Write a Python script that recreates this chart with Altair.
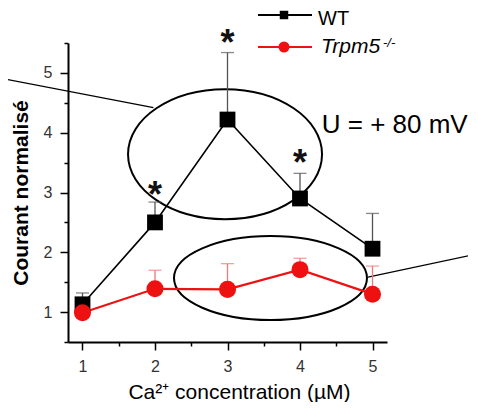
import altair as alt
import pandas as pd

# ---- data ----
conc = [1, 2, 3, 4, 5]
wt_mean = [1.13, 2.50, 4.22, 2.90, 2.06]
wt_err = [0.19, 0.34, 1.12, 0.42, 0.59]
ko_mean = [0.99, 1.39, 1.38, 1.71, 1.30]
ko_err = [0.10, 0.31, 0.43, 0.19, 0.47]
series_names = ["WT", "Trpm5"]

# significance stars (x, y of star centre)
star_x = [2, 3, 4]
star_y = [3.09, 5.63, 3.62]

# annotation ellipses (centre in data units)
ell_x = [2.966, 3.593]
ell_y = [3.64, 1.569]

# connector lines (data units)
conn_x1 = [-0.13, 4.938]
conn_y1 = [4.91, 1.585]
conn_x2 = [1.979, 6.43]
conn_y2 = [4.42, 1.97]

voltage_text = "U = + 80 mV"
voltage_pos = [4.30, 3.99]

x_ticks = [1, 1.5, 2, 2.5, 3, 3.5, 4, 4.5, 5]
y_ticks = [0.5, 1, 1.5, 2, 2.5, 3, 3.5, 4, 4.5, 5, 5.5]

FONT = "Liberation Sans"
RED = "#ee1111"

rows = []
for name, means, errs in [(series_names[0], wt_mean, wt_err), (series_names[1], ko_mean, ko_err)]:
    for c, m, e in zip(conc, means, errs):
        rows.append({"series": name, "conc": c, "mean": m, "top": m + e})
df = pd.DataFrame(rows)

xscale = alt.Scale(domain=[0.8, 5.2], nice=False, zero=False)
yscale = alt.Scale(domain=[0.5, 5.5], nice=False, zero=False)

LABEL_EXPR = "datum.value % 1 === 0 ? format(datum.value, 'd') : ''"
TICK_SIZE = {"condition": {"test": "datum.value % 1 === 0", "value": 8}, "value": 4}

x_axis = alt.Axis(
    values=x_ticks, tickCount=30, labelExpr=LABEL_EXPR, labelOverlap=False,
    title="Ca²⁺ concentration (µM)",
    titleFontSize=21, titleFontWeight="normal", titlePadding=7,
    titleX=171, labelPadding=8, tickSize=TICK_SIZE,
)
y_axis = alt.Axis(
    values=y_ticks, tickCount=30, labelExpr=LABEL_EXPR, labelOverlap=False,
    title="Courant normalisé",
    titleFontSize=21, titleFontWeight="bold", titlePadding=12,
    labelPadding=8, tickSize=TICK_SIZE,
)

base = alt.Chart(df).encode(
    x=alt.X("conc:Q", scale=xscale, axis=x_axis),
    y=alt.Y("mean:Q", scale=yscale, axis=y_axis),
)


def series_layers(name, color, err_color, shape, size, line_w):
    src = base.transform_filter(alt.datum.series == name)
    err = src.mark_rule(color=err_color, strokeWidth=1.3).encode(y2="top:Q")
    cap = src.mark_tick(color=err_color, orient="horizontal", size=13, thickness=1.3).encode(
        y=alt.Y("top:Q", scale=yscale, axis=y_axis)
    )
    line = src.mark_line(color=color, strokeWidth=line_w)
    pts = src.mark_point(shape=shape, filled=True, color=color, size=size, opacity=1)
    return err, cap, line, pts


wt_layers = series_layers("WT", "#000000", "#555555", "square", 250, 1.6)
ko_layers = series_layers("Trpm5", RED, "#f07878", "circle", 290, 2.2)

stars = alt.Chart(pd.DataFrame({"x": star_x, "y": star_y})).mark_text(
    text="*", font=FONT, fontSize=36, fontWeight="bold", baseline="middle", dy=9, color="#111"
).encode(x=alt.X("x:Q", scale=xscale), y=alt.Y("y:Q", scale=yscale))

ell_df = pd.DataFrame({"x": ell_x, "y": ell_y})
ellipse1 = alt.Chart(ell_df.iloc[[0]]).mark_point(
    shape="M-1,0A1,0.67,0,1,1,1,0A1,0.67,0,1,1,-1,0Z",
    size=194 * 194, filled=False, stroke="black", strokeWidth=2, opacity=1,
).encode(x=alt.X("x:Q", scale=xscale), y=alt.Y("y:Q", scale=yscale))
ellipse2 = alt.Chart(ell_df.iloc[[1]]).mark_point(
    shape="M-1,0A1,0.435,0,1,1,1,0A1,0.435,0,1,1,-1,0Z",
    size=193 * 193, filled=False, stroke="black", strokeWidth=2, opacity=1,
).encode(x=alt.X("x:Q", scale=xscale), y=alt.Y("y:Q", scale=yscale))

connectors = alt.Chart(
    pd.DataFrame({"x": conn_x1, "y": conn_y1, "x2": conn_x2, "y2": conn_y2})
).mark_rule(color="black", strokeWidth=1.2).encode(
    x=alt.X("x:Q", scale=xscale), y=alt.Y("y:Q", scale=yscale), x2="x2:Q", y2="y2:Q"
)

voltage = alt.Chart(pd.DataFrame({"x": [voltage_pos[0]], "y": [voltage_pos[1]]})).mark_text(
    text=voltage_text, font=FONT, fontSize=26, align="left", baseline="alphabetic", color="black"
).encode(x=alt.X("x:Q", scale=xscale), y=alt.Y("y:Q", scale=yscale))

# ---- manual legend (pixel positions relative to plot area) ----
one = pd.DataFrame({"a": [0]})
leg = alt.Chart(one)
leg_wt_line = leg.mark_rule(color="black", strokeWidth=2).encode(
    x=alt.value(190), x2=alt.value(244), y=alt.value(-28))
leg_wt_pt = leg.mark_point(shape="square", filled=True, color="black", size=72, opacity=1).encode(
    x=alt.value(216), y=alt.value(-28))
leg_wt_txt = leg.mark_text(text="WT", font=FONT, fontSize=20, align="left", baseline="alphabetic",
                           color="black").encode(x=alt.value(250), y=alt.value(-18))
leg_ko_line = leg.mark_rule(color=RED, strokeWidth=2).encode(
    x=alt.value(190), x2=alt.value(244), y=alt.value(4))
leg_ko_pt = leg.mark_point(shape="circle", filled=True, color=RED, size=121, opacity=1).encode(
    x=alt.value(216), y=alt.value(4))
leg_ko_txt = leg.mark_text(text="Trpm5", font=FONT, fontSize=21, fontStyle="italic", align="left",
                           baseline="alphabetic", color="black").encode(x=alt.value(253), y=alt.value(10))
leg_ko_sup = leg.mark_text(text="-/-", font=FONT, fontSize=13, fontStyle="italic", align="left",
                           baseline="alphabetic", color="black").encode(x=alt.value(315), y=alt.value(4))

chart = alt.layer(
    ellipse1, ellipse2, connectors,
    wt_layers[0], ko_layers[0], wt_layers[1], ko_layers[1],
    wt_layers[2], ko_layers[2], wt_layers[3], ko_layers[3],
    stars, voltage,
    leg_wt_line, leg_wt_pt, leg_wt_txt, leg_ko_line, leg_ko_pt, leg_ko_txt, leg_ko_sup,
).properties(
    width=319, height=299,
    autosize=alt.AutoSizeParams(type="none"),
    padding={"left": 60, "top": 35, "right": 81, "bottom": 60},
).configure_view(stroke=None).configure_axis(
    grid=False,
    domainColor="black", domainWidth=2,
    tickColor="black", tickWidth=1.5,
    labelFont=FONT, labelFontSize=16, labelColor="#333",
    titleFont=FONT, titleColor="black",
)

chart.save("out.html", embed_options={"renderer": "svg", "actions": False})
